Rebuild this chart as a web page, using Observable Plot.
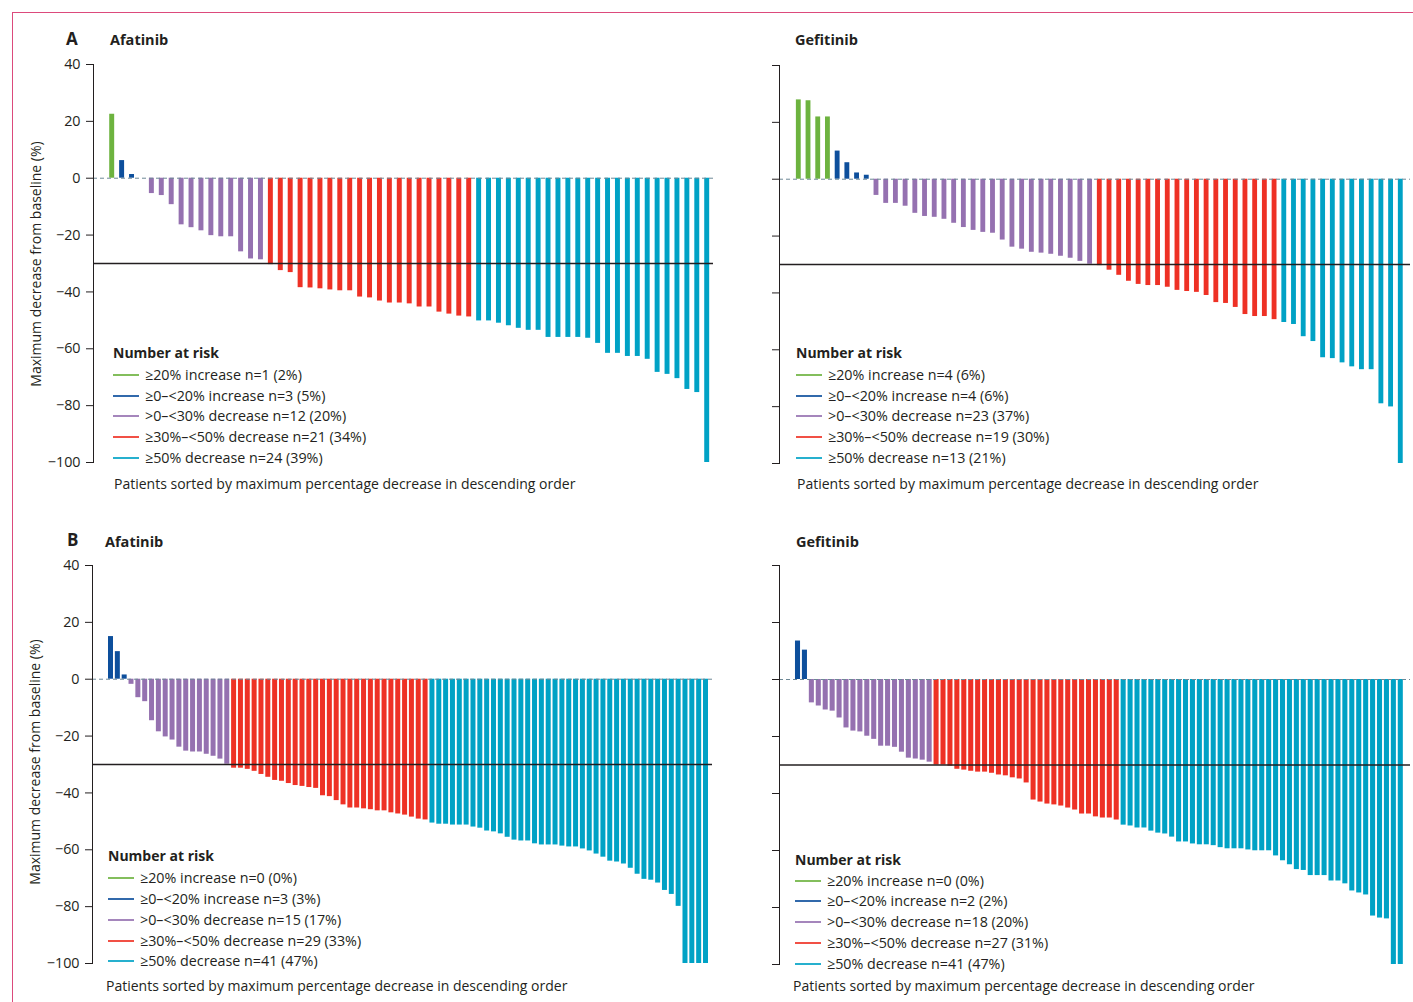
<!DOCTYPE html>
<html>
<head>
<meta charset="utf-8">
<script src="https://cdn.jsdelivr.net/npm/d3@7"></script>
<script src="https://cdn.jsdelivr.net/npm/@observablehq/plot@0.6"></script>
<style>
  body { margin: 0; background: #fff; }
  #fig { position: relative; width: 1413px; height: 1002px; overflow: hidden; font-family: "Open Sans", "Noto Sans", sans-serif; color: #231f20; background: #fff; }
  .t { position: absolute; white-space: nowrap; line-height: 1; transform: translateY(-50%); font-size: 14px; }
  .b { font-weight: bold; }
  .ytitle { position: absolute; white-space: nowrap; font-size: 14px; line-height: 1; transform: translate(-50%, -50%) rotate(-90deg); }
  .ln { position: absolute; height: 2px; width: 26px; transform: translateY(-50%); opacity: 0.85; }
  .border { position: absolute; left: 12px; top: 12px; width: 1500px; height: 1100px; border-top: 1px solid #dc4a7c; border-left: 1px solid #dc4a7c; }
  svg { position: absolute; overflow: visible; }
</style>
</head>
<body>
<div id="fig"><div class="border"></div></div>
<script>
// ---- categories and colours ----
const categories = ["≥20% increase", "≥0–<20% increase", ">0–<30% decrease", "≥30%–<50% decrease", "≥50% decrease"];
const colors = ["#6db33f", "#0d4f9c", "#9571b0", "#ee3125", "#00a2c5"];
const yTicks = [-100, -80, -60, -40, -20, 0, 20, 40];
const caption = "Patients sorted by maximum percentage decrease in descending order";
const yTitle = "Maximum decrease from baseline (%)";

// ---- Panel A: Afatinib (values in %, positive = increase) ----
const afatinibACounts = [1, 3, 12, 21, 24];
const afatinibAPct = [2, 5, 20, 34, 39];
const afatinibA = [
  22.5,
  6.2, 1.3, 0,
  -5.4, -6.1, -9.3, -16.4, -17.4, -18.5, -20.2, -20.6, -20.6, -25.9, -28.4, -28.7,
  -30.4, -32.5, -33.2, -38.5, -38.6, -38.9, -39.3, -39.6, -39.6, -41.8, -42.1, -43.2, -43.9, -43.9, -44.2, -45.3, -45.3, -47.1, -47.8, -48.5, -48.8,
  -50.2, -50.2, -51, -51.9, -52.8, -53.5, -53.5, -56, -56, -56, -56, -56.3, -58.1, -61.6, -61.6, -62.7, -62.7, -63.7, -68.3, -69, -70.5, -74.3, -75.4, -100
];

// ---- Panel A: Gefitinib ----
const gefitinibACounts = [4, 4, 23, 19, 13];
const gefitinibAPct = [6, 6, 37, 30, 21];
const gefitinibA = [
  27.9, 27.6, 21.9, 21.9,
  9.9, 5.8, 2.2, 1.4,
  -5.7, -8.5, -8.5, -9.5, -12, -13.1, -13.4, -14.1, -15.5, -17, -18, -18.7, -19, -21.4, -23.9, -24.6, -25.7, -26, -26.4, -27.1, -27.8, -28.9, -29.9,
  -30.4, -32, -33.8, -35.9, -37, -37.4, -37.4, -38, -39.1, -39.5, -39.8, -40.9, -43.4, -43.7, -45.1, -47.6, -48.3, -48.3, -49.4,
  -50.4, -51.1, -55.4, -57.1, -62.8, -63.1, -64.6, -66, -67, -67, -79, -80.1, -100
];

// ---- Panel B: Afatinib ----
const afatinibBCounts = [0, 3, 15, 29, 41];
const afatinibBPct = [0, 3, 17, 33, 47];
const afatinibB = [
  15, 9.7, 1.5,
  -1.8, -6.5, -7.9, -14.6, -18.5, -20.3, -21.4, -23.9, -25.3, -25.6, -25.6, -26.4, -27.1, -28.1, -29.9,
  -31.3, -31.3, -31.7, -32.4, -33.5, -34.5, -35.6, -35.9, -36.7, -37.4, -37.7, -38.1, -38.4, -41, -41.3, -42.7, -44.2, -45.3, -45.3, -45.6, -45.9, -46.3, -46.3, -47, -47.4, -47.8, -48.5, -49.2, -49.5,
  -50.6, -51, -51, -51.3, -51.3, -51.3, -52, -52.4, -53.4, -53.7, -54.4, -55.6, -56.6, -56.9, -56.9, -57.9, -58.3, -58.3, -58.3, -58.7, -59, -59, -59.7, -60.4, -61.5, -62.6, -64, -64.3, -65, -66.5, -68.6, -70.4, -70.7, -71.7, -74.3, -75.7, -79.9, -100, -100, -100, -100
];

// ---- Panel B: Gefitinib ----
const gefitinibBCounts = [0, 2, 18, 27, 41];
const gefitinibBPct = [0, 2, 20, 31, 47];
const gefitinibB = [
  13.5, 10.3,
  -8.2, -9.3, -10.7, -11.1, -13.5, -17, -18.1, -18.4, -19.9, -21, -23.4, -23.4, -23.8, -25.5, -27.6, -27.9, -28.3, -29,
  -30, -30, -30.4, -31.5, -31.8, -32.2, -32.5, -32.5, -32.9, -33.5, -33.8, -34.5, -34.9, -36.3, -42.3, -43, -43.7, -44, -44.4, -45.1, -45.8, -47.2, -47.2, -48.2, -48.6, -48.6, -49.3,
  -51.1, -51.4, -52.1, -52.1, -53.2, -53.9, -54.2, -55.3, -57, -57, -57.7, -58, -58, -58.3, -59, -59.4, -59.4, -59.4, -59.8, -60.1, -60.1, -60.1, -61.9, -63.6, -65, -66.7, -67, -68.8, -68.8, -68.8, -70.7, -70.7, -71.7, -74.2, -74.9, -75.6, -83, -83.7, -84, -100, -100
];

const fig = document.getElementById("fig");
const fmt = d => (d < 0 ? "\u2212" + Math.abs(d) : String(d));

function drawPanel(cfg) {
  const data = [];
  let k = 0;
  cfg.counts.forEach((c, ci) => {
    for (let j = 0; j < c; j++) { data.push({i: k, v: cfg.values[k], cat: ci}); k++; }
  });
  const n = data.length;
  const svg = Plot.plot({
    width: cfg.width,
    height: cfg.height,
    marginLeft: cfg.axisX - cfg.left,
    marginRight: cfg.left + cfg.width - cfg.frameRight,
    marginTop: cfg.yTop - cfg.top,
    marginBottom: cfg.top + cfg.height - cfg.yBottom,
    style: {background: "transparent", fontFamily: '"Open Sans", "Noto Sans", sans-serif', fontSize: "14px", color: "#231f20", overflow: "visible"},
    x: {type: "band", domain: d3.range(n), axis: null, paddingInner: cfg.pad, paddingOuter: cfg.pad / 2,
        insetLeft: cfg.bandL - cfg.axisX, insetRight: cfg.frameRight - cfg.bandR},
    y: {domain: [-100, 40], label: null},
    color: {type: "ordinal", domain: d3.range(5), range: colors},
    marks: [
      Plot.barY(data, {x: "i", y: "v", fill: "cat"}),
      Plot.ruleY([0], {stroke: "#6d8896", strokeDasharray: "4,3", strokeWidth: 1}),
      Plot.ruleY([-30], {stroke: "#231f20", strokeWidth: 1.4}),
      Plot.frame({anchor: "left", stroke: "#231f20"}),
      Plot.axisY({ticks: yTicks, tickSize: 7, tickPadding: 6, fontSize: 14.3, stroke: "#231f20",
                  tickFormat: cfg.labels ? fmt : () => ""})
    ]
  });
  svg.style.left = cfg.left + "px";
  svg.style.top = cfg.top + "px";
  fig.appendChild(svg);
}

function addText(txt, x, y, cls, size) {
  const d = document.createElement("div");
  d.className = "t" + (cls ? " " + cls : "");
  d.style.left = x + "px";
  d.style.top = y + "px";
  if (size) d.style.fontSize = size + "px";
  d.textContent = txt;
  fig.appendChild(d);
}

function addLegend(x, yTitleC, yItems, counts, pcts) {
  addText("Number at risk", x, yTitleC, "b");
  categories.forEach((c, i) => {
    const ln = document.createElement("div");
    ln.className = "ln";
    ln.style.left = x + "px";
    ln.style.top = yItems[i] + "px";
    ln.style.background = colors[i];
    fig.appendChild(ln);
    addText(`${c} n=${counts[i]} (${pcts[i]}%)`, x + 32, yItems[i], "", 14.3);
  });
}

function addYTitle(x, y) {
  const d = document.createElement("div");
  d.className = "ytitle";
  d.style.left = x + "px";
  d.style.top = y + "px";
  d.textContent = yTitle;
  fig.appendChild(d);
}

// Panel A
drawPanel({values: afatinibA, counts: afatinibACounts, left: 20, top: 50, width: 700, height: 430,
  axisX: 93, frameRight: 713, yTop: 64, yBottom: 462, bandL: 106.74, bandR: 711.66, pad: 0.5, labels: true});
drawPanel({values: gefitinibA, counts: gefitinibACounts, left: 720, top: 50, width: 693, height: 430,
  axisX: 779, frameRight: 1410, yTop: 65, yBottom: 463, bandL: 793.45, bandR: 1405.15, pad: 0.5, labels: false});
// Panel B
drawPanel({values: afatinibB, counts: afatinibBCounts, left: 20, top: 551, width: 700, height: 430,
  axisX: 92, frameRight: 712, yTop: 565, yBottom: 963, bandL: 107.08, bandR: 708.92, pad: 0.27, labels: true});
drawPanel({values: gefitinibB, counts: gefitinibBCounts, left: 720, top: 551, width: 693, height: 430,
  axisX: 779, frameRight: 1410, yTop: 565, yBottom: 964, bandL: 794.04, bandR: 1403.76, pad: 0.27, labels: false});

// Titles
addText("A", 66, 38, "b", 17);
addText("B", 67, 539, "b", 17);
addText("Afatinib", 110, 40, "b", 14.5);
addText("Gefitinib", 795, 40, "b", 14.5);
addText("Afatinib", 105, 542, "b", 14.5);
addText("Gefitinib", 796, 542, "b", 14.5);

// Y titles
addYTitle(36, 264);
addYTitle(35, 762);

// Legends
addLegend(113, 353, [375, 396, 416, 437, 458], afatinibACounts, afatinibAPct);
addLegend(796, 353, [375, 396, 416, 437, 458], gefitinibACounts, gefitinibAPct);
addLegend(108, 856, [878, 899, 920, 941, 961], afatinibBCounts, afatinibBPct);
addLegend(795, 860, [881, 901, 922, 943, 964], gefitinibBCounts, gefitinibBPct);

// Captions
addText(caption, 114, 484);
addText(caption, 797, 484);
addText(caption, 106, 986);
addText(caption, 793, 986);
</script>
</body>
</html>
